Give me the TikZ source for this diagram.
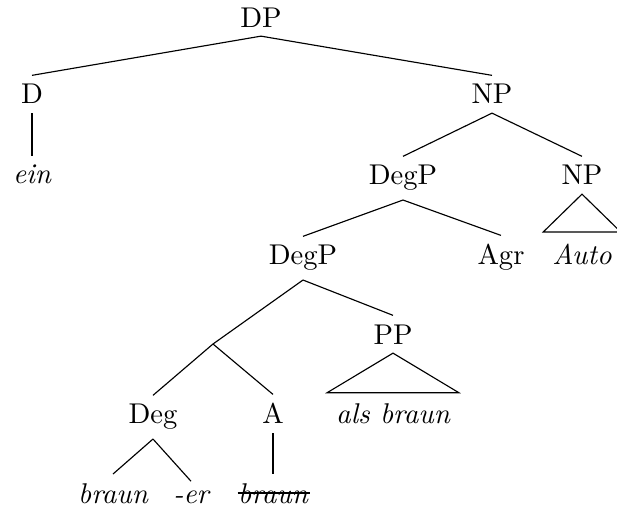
\documentclass[tikz,border=0pt]{standalone}
\begin{document}
\begin{tikzpicture}[x=0.35pt,y=-0.35pt,
  every node/.style={inner sep=3pt},
  lbl/.style={anchor=base},
  word/.style={anchor=base,font=\itshape},
  edge/.style={draw,line width=0.4pt}]
\useasboundingbox (0,0) rectangle (617,507);
\node[lbl] (dp) at (261,27) {DP};
\node[lbl] (d) at (32,104) {D};
\node[lbl] (np) at (492,104) {NP};
\node[word] (ein) at (32,184) {ein};
\node[lbl] (degp) at (403,185) {DegP};
\node[lbl] (np2) at (582,185) {NP};
\node[lbl] (degp2) at (303,265) {DegP};
\node[lbl] (agr) at (501,265) {Agr};
\node[word] (auto) at (582,265) {Auto};
\node[lbl] (pp) at (393,344) {PP};
\coordinate (j) at (213,344);
\node[lbl] (deg) at (153,424) {Deg};
\node[lbl] (a) at (273,424) {A};
\node[word] (als) at (393,424) {als braun};
\node[word] (br) at (113,503) {braun};
\node[word] (er) at (191,503) {-er};
\node[word] (str) at (273,503) {braun};
\path[edge] (dp.south) -- (d.north);
\path[edge] (dp.south) -- (np.north);
\path[edge] (d.south) -- (ein.north);
\path[edge] (np.south) -- (degp.north);
\path[edge] (np.south) -- (np2.north);
\path[edge] (np2.south) -- ([yshift=1.2pt]auto.north west) -- ([yshift=1.2pt]auto.north east) -- cycle;
\path[edge] (degp.south) -- (degp2.north);
\path[edge] (degp.south) -- (agr.north);
\path[edge] (degp2.south) -- (j);
\path[edge] (degp2.south) -- (pp.north);
\path[edge] (pp.south) -- ([yshift=0.8pt]als.north west) -- ([yshift=0.8pt]als.north east) -- cycle;
\path[edge] (j) -- (deg.north);
\path[edge] (j) -- (a.north);
\path[edge] (deg.south) -- (br.north);
\path[edge] (deg.south) -- (er.north);
\path[edge] (a.south) -- (str.north);
\path[edge] ([xshift=3pt,yshift=3.5pt]str.base west) -- ([xshift=-2.4pt,yshift=3.5pt]str.base east);
\end{tikzpicture}
\end{document}
